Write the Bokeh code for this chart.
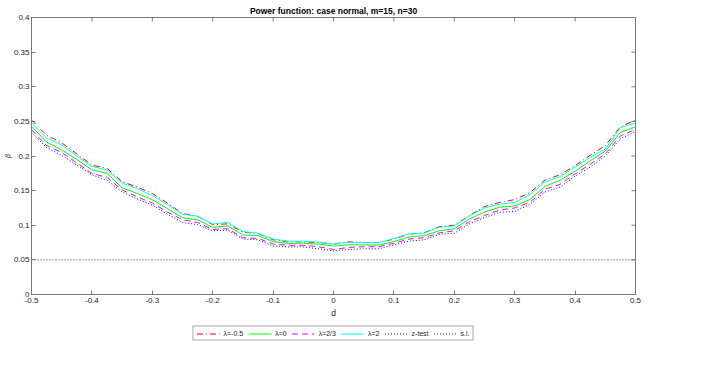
from bokeh.plotting import figure
from bokeh.models import Legend, LegendItem, LinearAxis, FixedTicker, Range1d
from bokeh.layouts import column
from bokeh.embed import file_html
from bokeh.resources import INLINE

# ---- data ----
d = [-0.5, -0.475, -0.45, -0.425, -0.4, -0.375, -0.35, -0.325, -0.3, -0.275,
     -0.25, -0.225, -0.2, -0.175, -0.15, -0.125, -0.1, -0.075, -0.05, -0.025,
     0.0, 0.025, 0.05, 0.075, 0.1, 0.125, 0.15, 0.175, 0.2, 0.225,
     0.25, 0.275, 0.3, 0.325, 0.35, 0.375, 0.4, 0.425, 0.45, 0.475, 0.5]

lam_m05 = [0.252, 0.230, 0.219, 0.203, 0.187, 0.182, 0.163, 0.155, 0.146, 0.132,
           0.117, 0.113, 0.101, 0.102, 0.090, 0.088, 0.079, 0.076, 0.076, 0.075,
           0.073, 0.076, 0.075, 0.075, 0.080, 0.087, 0.089, 0.098, 0.100, 0.114,
           0.127, 0.133, 0.137, 0.147, 0.165, 0.173, 0.186, 0.201, 0.215, 0.242, 0.252]

lam_0 = [0.243, 0.220, 0.209, 0.195, 0.180, 0.175, 0.154, 0.146, 0.137, 0.124,
         0.111, 0.108, 0.097, 0.099, 0.086, 0.085, 0.0765, 0.0735, 0.074, 0.0726,
         0.070, 0.0717, 0.0717, 0.0713, 0.0765, 0.083, 0.085, 0.092, 0.095, 0.109,
         0.119, 0.126, 0.128, 0.137, 0.156, 0.165, 0.178, 0.193, 0.207, 0.234, 0.242]

lam_23 = [0.238, 0.215, 0.205, 0.190, 0.175, 0.169, 0.151, 0.141, 0.132, 0.119,
          0.108, 0.104, 0.094, 0.095, 0.082, 0.081, 0.073, 0.071, 0.071, 0.069,
          0.065, 0.068, 0.069, 0.069, 0.074, 0.080, 0.082, 0.089, 0.092, 0.105,
          0.114, 0.122, 0.125, 0.133, 0.152, 0.159, 0.174, 0.188, 0.203, 0.229, 0.2385]

lam_2 = [0.248, 0.226, 0.216, 0.200, 0.185, 0.180, 0.161, 0.153, 0.143, 0.130,
         0.116, 0.113, 0.102, 0.104, 0.091, 0.0885, 0.080, 0.077, 0.077, 0.0755,
         0.0726, 0.0755, 0.075, 0.075, 0.081, 0.0875, 0.0885, 0.097, 0.099, 0.1135,
         0.125, 0.1306, 0.133, 0.144, 0.1625, 0.170, 0.184, 0.198, 0.210, 0.241, 0.248]

z_test = [0.234, 0.212, 0.201, 0.187, 0.173, 0.165, 0.148, 0.138, 0.129, 0.116,
          0.104, 0.101, 0.092, 0.093, 0.080, 0.079, 0.070, 0.0687, 0.0687, 0.066,
          0.063, 0.065, 0.066, 0.066, 0.0717, 0.077, 0.079, 0.087, 0.0885, 0.102,
          0.111, 0.1186, 0.120, 0.130, 0.148, 0.155, 0.171, 0.184, 0.200, 0.225, 0.235]

sig_level = 0.05

series_labels = ["\u03bb=-0.5", "\u03bb=0", "\u03bb=2/3", "\u03bb=2", "z-test", "s.l."]

x_ticks = [-0.5, -0.4, -0.3, -0.2, -0.1, 0, 0.1, 0.2, 0.3, 0.4, 0.5]
x_tick_labels = ["-0.5", "-0.4", "-0.3", "-0.2", "-0.1", "0", "0.1", "0.2", "0.3", "0.4", "0.5"]
y_ticks = [0, 0.05, 0.1, 0.15, 0.2, 0.25, 0.3, 0.35, 0.4]
y_tick_labels = ["0", "0.05", "0.1", "0.15", "0.2", "0.25", "0.3", "0.35", "0.4"]

X_MIN, X_MAX = -0.5, 0.5
Y_MIN, Y_MAX = 0.0, 0.4

FONT = "Liberation Sans"
AX = "#7a7a7a"
TXT = "#262626"

# series styles: (values, colour, dash)
styles = [
    (lam_m05, "#ff0000", "6 3 1 3"),
    (lam_0, "#00ff00", "solid"),
    (lam_23, "#ff00ff", "6 4"),
    (lam_2, "#00ffff", "solid"),
    (z_test, "#0000ff", "1 2"),
]
SL_COLOR, SL_DASH = "#333333", "1 2"

p = figure(width=700, height=322,
           x_range=Range1d(X_MIN, X_MAX), y_range=Range1d(Y_MIN, Y_MAX),
           output_backend="svg", toolbar_location=None,
           x_axis_location=None, y_axis_location=None,
           min_border_left=25, min_border_right=65, min_border_top=17, min_border_bottom=28,
           background_fill_color="white", border_fill_color="white")
p.grid.visible = False
p.outline_line_color = AX

p.title.text = "Power function: case normal, m=15, n=30"
p.title.align = "center"
p.title.text_font = FONT
p.title.text_font_size = "8.5px"
p.title.text_font_style = "bold"
p.title.text_color = "black"
p.title.standoff = 3
p.title.offset = 0


def style_axis(ax):
    ax.axis_line_color = AX
    ax.major_tick_line_color = AX
    ax.minor_tick_line_color = None
    ax.major_tick_in = 4
    ax.major_tick_out = 0
    ax.major_label_text_font = FONT
    ax.major_label_text_color = TXT
    ax.major_label_text_font_size = "8px"
    ax.axis_label_text_font = FONT
    ax.axis_label_text_color = TXT


xb = LinearAxis(ticker=FixedTicker(ticks=x_ticks),
                major_label_overrides={t: s for t, s in zip(x_ticks, x_tick_labels)},
                axis_label="d")
style_axis(xb)
xb.major_label_standoff = 3
xb.axis_label_text_font_size = "8.5px"
xb.axis_label_text_font_style = "normal"
xb.axis_label_standoff = 2
p.add_layout(xb, "below")

yl = LinearAxis(ticker=FixedTicker(ticks=y_ticks),
                major_label_overrides={t: s for t, s in zip(y_ticks, y_tick_labels)},
                axis_label="\u03b2")
style_axis(yl)
yl.major_label_standoff = 2
yl.axis_label_text_font_size = "7px"
yl.axis_label_text_font_style = "italic"
yl.axis_label_standoff = 0
p.add_layout(yl, "left")

# mirrored inward ticks on the top and right edges (clipped to the frame)
p.scatter(x_ticks, [Y_MAX] * len(x_ticks), marker="dash", angle=1.5708, size=8,
          line_color=AX, line_width=1)
p.scatter([X_MAX] * len(y_ticks), y_ticks, marker="dash", size=8,
          line_color=AX, line_width=1)

for vals, col, dash in styles:
    p.line(d, vals, line_color=col, line_width=1, line_dash=dash)
p.line([X_MIN, X_MAX], [sig_level, sig_level], line_color=SL_COLOR,
       line_width=1, line_dash=SL_DASH)

# ---- legend strip below the axes ----
# The proxy lines are squeezed into a tiny spot at the strip's centre, where the
# opaque legend box covers them.
lg = figure(width=700, height=22, output_backend="svg", toolbar_location=None,
            x_range=Range1d(-40, 40), y_range=Range1d(-20, 20),
            x_axis_location=None, y_axis_location=None,
            min_border_left=25, min_border_right=65, min_border_top=0, min_border_bottom=0,
            background_fill_color="white", border_fill_color="white")
lg.grid.visible = False
lg.outline_line_color = None
proxies = [lg.line(d, vals, line_color=col, line_width=1, line_dash=dash)
           for vals, col, dash in styles]
proxies.append(lg.line([X_MIN, X_MAX], [sig_level, sig_level], line_color=SL_COLOR,
                       line_width=1, line_dash=SL_DASH))

legend = Legend(items=[LegendItem(label=lab, renderers=[r])
                       for lab, r in zip(series_labels, proxies)],
                orientation="horizontal", location="center",
                label_text_font=FONT, label_text_font_size="7px", label_text_color=TXT,
                glyph_width=23, glyph_height=6, label_height=6, label_width=4,
                label_standoff=4, spacing=5, padding=3, margin=0,
                border_line_color="#555555", border_line_width=1,
                background_fill_color="white", background_fill_alpha=1.0)
lg.add_layout(legend, "center")

layout = column(p, lg, spacing=0)
open("out.html", "w").write(file_html(layout, INLINE))
